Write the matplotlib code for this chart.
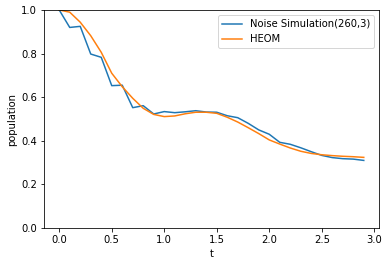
import matplotlib
matplotlib.use("Agg")
import matplotlib.pyplot as plt
import numpy as np

t = np.round(np.arange(30) * 0.1, 1)

noise_sim = [1.0, 0.92, 0.925, 0.798, 0.783, 0.653, 0.655, 0.552, 0.561, 0.523,
             0.534, 0.529, 0.533, 0.538, 0.532, 0.531, 0.515, 0.506, 0.48, 0.45,
             0.43, 0.393, 0.384, 0.368, 0.35, 0.333, 0.323, 0.318, 0.316, 0.31]

heom = [1.0, 0.99, 0.944, 0.882, 0.806, 0.71, 0.648, 0.595, 0.549, 0.521,
        0.511, 0.514, 0.524, 0.531, 0.531, 0.526, 0.508, 0.486, 0.46, 0.433,
        0.404, 0.385, 0.367, 0.352, 0.342, 0.336, 0.332, 0.329, 0.327, 0.324]

fig = plt.figure(figsize=(389 / 72, 266 / 72), dpi=72)
ax = fig.add_axes([44 / 389, 1 - 228 / 266, (379 - 44) / 389, (228 - 10) / 266])

ax.plot(t, noise_sim, label="Noise Simulation(260,3)")
ax.plot(t, heom, label="HEOM")
ax.set_ylim(0, 1)
ax.set_xlabel("t")
ax.set_ylabel("population")
ax.legend()

fig.savefig("out.png", dpi=72)
